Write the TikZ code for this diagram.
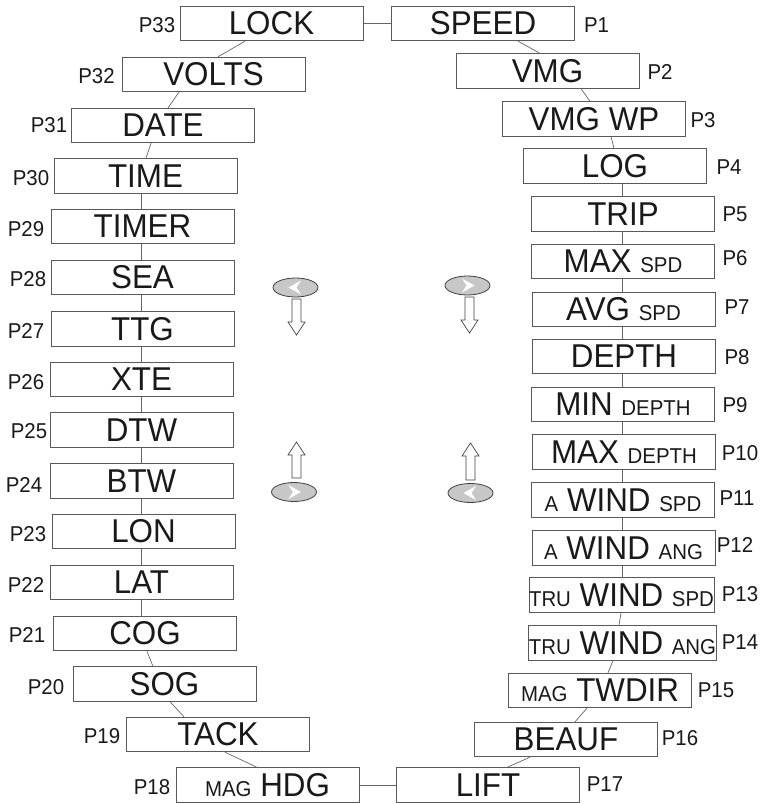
\documentclass[tikz,border=0pt]{standalone}
\usepackage{fontspec}
\setmainfont{Liberation Sans}[FakeStretch=0.95]
\newcommand\bxf{\fontsize{33}{34}\selectfont}
\newcommand\smf{\fontsize{21.5}{22}\selectfont}
\tikzset{
  box/.style={draw=black!65, line width=0.8pt, minimum width=183pt, minimum height=34.5pt,
    inner sep=0pt, font=\bxf, text=black!90},
  lbl/.style={font=\smf, inner sep=0pt, text=black!90},
  conn/.style={draw=black!60, line width=0.7pt},
  btn/.style={draw=black!75, fill=black!22, line width=0.8pt},
  harrow/.style={draw=black!75, fill=white, line width=0.7pt},
}
\begin{document}
\begin{tikzpicture}[x=1pt,y=-1pt]
\useasboundingbox (0,0) rectangle (765,803);
% left column
\node[box] (lock)  at (271.5,23.5) {LOCK};
\node[box] (volts) at (213.5,74.5) {VOLTS};
\node[box] (date)  at (163,125.5) {DATE};
\node[box] (time)  at (145.5,176) {TIME};
\node[box] (timer) at (142.5,226.5) {TIMER};
\node[box] (sea)   at (142.5,277.5) {SEA};
\node[box] (ttg)   at (142.5,329) {TTG};
\node[box] (xte)   at (141.5,379.5) {XTE};
\node[box] (dtw)   at (141.5,430) {DTW};
\node[box] (btw)   at (141.5,481) {BTW};
\node[box] (lon)   at (143.5,531.5) {LON};
\node[box] (lat)   at (141.5,582.5) {LAT};
\node[box] (cog)   at (145,633.5) {COG};
\node[box] (sog)   at (164.5,684) {SOG};
\node[box] (tack)  at (218,734.5) {TACK};
\node[box] (hdg)   at (267.5,785) {{\smf MAG} HDG};
% right column
\node[box] (speed) at (483,23.5) {SPEED};
\node[box] (vmg)   at (547.5,71) {VMG};
\node[box] (vmgwp) at (594,119) {VMG WP};
\node[box] (log)   at (615,166) {LOG};
\node[box] (trip)  at (623,214) {TRIP};
\node[box] (maxspd) at (623,261.5) {MAX {\smf SPD}};
\node[box] (avgspd) at (623.5,309.5) {AVG {\smf SPD}};
\node[box] (depth) at (624,356.5) {DEPTH};
\node[box] (mindep) at (623,404.5) {MIN {\smf DEPTH}};
\node[box] (maxdep) at (624,452) {MAX {\smf DEPTH}};
\node[box] (awspd) at (623,500) {{\smf A} WIND {\smf SPD}};
\node[box] (awang) at (623.5,548) {{\smf A} WIND {\smf ANG}};
\node[box] (twspd) at (621.5,595) {{\smf TRU} WIND {\smf SPD}};
\node[box] (twang) at (622.5,643) {{\smf TRU} WIND {\smf ANG}};
\node[box] (twdir) at (600,690.5) {{\smf MAG} TWDIR};
\node[box] (beauf) at (566,739.5) {BEAUF};
\node[box] (lift)  at (488,785) {LIFT};
% labels
\node[lbl] (p1)  at (596.5,25) {P1};
\node[lbl] (p2)  at (660,72) {P2};
\node[lbl] (p3)  at (703,120) {P3};
\node[lbl] (p4)  at (729,167) {P4};
\node[lbl] (p5)  at (735,214) {P5};
\node[lbl] (p6)  at (735,258) {P6};
\node[lbl] (p7)  at (737,307) {P7};
\node[lbl] (p8)  at (737,357) {P8};
\node[lbl] (p9)  at (735,405) {P9};
\node[lbl] (p10) at (740,453) {P10};
\node[lbl] (p11) at (737,498) {P11};
\node[lbl] (p12) at (735,545) {P12};
\node[lbl] (p13) at (740,594) {P13};
\node[lbl] (p14) at (740,642) {P14};
\node[lbl] (p15) at (716,690) {P15};
\node[lbl] (p16) at (680,738) {P16};
\node[lbl] (p17) at (605,784) {P17};
\node[lbl] (p18) at (152,787) {P18};
\node[lbl] (p19) at (102,736) {P19};
\node[lbl] (p20) at (46,687) {P20};
\node[lbl] (p21) at (27,635) {P21};
\node[lbl] (p22) at (26,585) {P22};
\node[lbl] (p23) at (28,534) {P23};
\node[lbl] (p24) at (24,485) {P24};
\node[lbl] (p25) at (29,431) {P25};
\node[lbl] (p26) at (26,382) {P26};
\node[lbl] (p27) at (26,331) {P27};
\node[lbl] (p28) at (28,279) {P28};
\node[lbl] (p29) at (26,229) {P29};
\node[lbl] (p30) at (31,178) {P30};
\node[lbl] (p31) at (49,125) {P31};
\node[lbl] (p32) at (96.5,76) {P32};
\node[lbl] (p33) at (157,25) {P33};
% connectors
\coordinate (lx) at (141,0);
\coordinate (rx) at (622,0);
\draw[conn] (lock.east) -- (speed.west);
\draw[conn] ([xshift=-26.5pt]lock.south) -- ([xshift=4.5pt]volts.north);
\draw[conn] ([xshift=-34.5pt]volts.south) -- ([xshift=5pt]date.north);
\draw[conn] ([xshift=-12pt]date.south) -- ([xshift=0.5pt]time.north);
\draw[conn] (time.south -| lx) -- (timer.north -| lx);
\draw[conn] (timer.south -| lx) -- (sea.north -| lx);
\draw[conn] (sea.south -| lx) -- (ttg.north -| lx);
\draw[conn] (ttg.south -| lx) -- (xte.north -| lx);
\draw[conn] (xte.south -| lx) -- (dtw.north -| lx);
\draw[conn] (dtw.south -| lx) -- (btw.north -| lx);
\draw[conn] (btw.south -| lx) -- (lon.north -| lx);
\draw[conn] (lon.south -| lx) -- (lat.north -| lx);
\draw[conn] (lat.south -| lx) -- (cog.north -| lx);
\draw[conn] ([xshift=2pt]cog.south) -- ([xshift=-11.5pt]sog.north);
\draw[conn] ([xshift=5.5pt]sog.south) -- ([xshift=-34pt]tack.north);
\draw[conn] ([xshift=7pt]tack.south) -- ([xshift=-10.5pt]hdg.north);
\draw[conn] (hdg.east) -- (lift.west);
\draw[conn] ([xshift=35pt]speed.south) -- ([xshift=-7.5pt]vmg.north);
\draw[conn] ([xshift=33.5pt]vmg.south) -- ([xshift=-4pt]vmgwp.north);
\draw[conn] ([xshift=17pt]vmgwp.south) -- ([xshift=-1pt]log.north);
\draw[conn] (log.south -| rx) -- (trip.north -| rx);
\draw[conn] (trip.south -| rx) -- (maxspd.north -| rx);
\draw[conn] (maxspd.south -| rx) -- (avgspd.north -| rx);
\draw[conn] (avgspd.south -| rx) -- (depth.north -| rx);
\draw[conn] (depth.south -| rx) -- (mindep.north -| rx);
\draw[conn] (mindep.south -| rx) -- (maxdep.north -| rx);
\draw[conn] (maxdep.south -| rx) -- (awspd.north -| rx);
\draw[conn] (awspd.south -| rx) -- (awang.north -| rx);
\draw[conn] (awang.south -| rx) -- (twspd.north -| rx);
\draw[conn] ([xshift=-0.5pt]twspd.south) -- ([xshift=-3.5pt]twang.north);
\draw[conn] ([xshift=-9.5pt]twang.south) -- ([xshift=8pt]twdir.north);
\draw[conn] ([xshift=-13pt]twdir.south) -- ([xshift=9pt]beauf.north);
\draw[conn] ([xshift=-36pt]beauf.south) -- ([xshift=19pt]lift.north);
% buttons
\draw[btn] (295.5,287.5) ellipse (22.5 and 9.5);
\fill[white] (288.5,287.5) -- (301,280.5) -- (296.5,287.5) -- (301,294.5) -- cycle;
\draw[btn] (467.5,285.5) ellipse (22.5 and 9.5);
\fill[white] (474.5,285.5) -- (462,278.5) -- (466.5,285.5) -- (462,292.5) -- cycle;
\draw[btn] (294,492) ellipse (22.5 and 9.5);
\fill[white] (301,492) -- (288.5,485) -- (293,492) -- (288.5,499) -- cycle;
\draw[btn] (470.5,493) ellipse (22.5 and 9.5);
\fill[white] (463.5,493) -- (476,486) -- (471.5,493) -- (476,500) -- cycle;
% hollow arrows
\draw[harrow] (292,299) -- (301,299) -- (301,322) -- (305,322) -- (296.5,335) -- (288,322) -- (292,322) -- cycle;
\draw[harrow] (465,297) -- (474,297) -- (474,320) -- (478,320) -- (469.5,333) -- (461,320) -- (465,320) -- cycle;
\draw[harrow] (292,478) -- (301,478) -- (301,455) -- (305,455) -- (296.5,442) -- (288,455) -- (292,455) -- cycle;
\draw[harrow] (466,480) -- (475,480) -- (475,456) -- (479,456) -- (470.5,443) -- (462,456) -- (466,456) -- cycle;
\end{tikzpicture}
\end{document}
